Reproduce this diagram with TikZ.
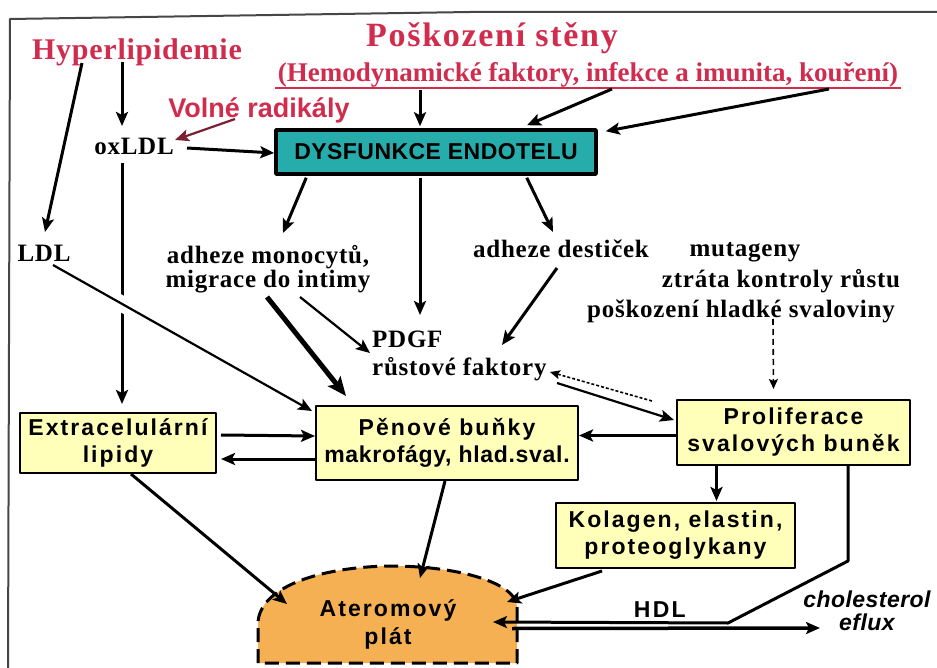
\documentclass[tikz,border=0pt]{standalone}
\usepackage{fontspec}
\setmainfont{Liberation Serif}
\setsansfont{Liberation Sans}
\usetikzlibrary{positioning,arrows.meta}

\definecolor{crimsonred}{RGB}{208,44,78}
\definecolor{darkmaroon}{RGB}{122,32,48}
\definecolor{tealbox}{RGB}{38,172,170}
\definecolor{paleyellow}{RGB}{255,255,186}
\definecolor{plaqueorange}{RGB}{244,176,82}
\definecolor{framegray}{RGB}{70,70,70}

% serif label font: size, letter spacing, baselineskip
\newcommand\lblfont[3]{\bfseries\fontsize{#1}{#3}\selectfont\addfontfeature{LetterSpace=#2}}
% sans box font: size, letter spacing, baselineskip
\newcommand\boxfont[3]{\sffamily\bfseries\fontsize{#1}{#3}\selectfont\addfontfeature{LetterSpace=#2}}

\begin{document}
\begin{tikzpicture}[x=1pt, y=-1pt, line join=round,
    >={Stealth[length=14pt,width=12pt,inset=3pt]},
    lbl/.style={font=\lblfont{25}{3}{24}, inner sep=3pt},
    redlbl/.style={text=crimsonred, inner sep=3pt},
    ybox/.style={draw, line width=2pt, fill=paleyellow, font=\boxfont{23}{9}{27}, align=center, inner sep=2pt},
    arr/.style={->, line width=3pt},
    thinarr/.style={->, line width=2.2pt},
    thickarr/.style={-{Stealth[length=19pt,width=16pt,inset=4pt]}, line width=5pt},
    smallarr/.style={-{Stealth[length=10pt,width=9pt,inset=2pt]}, line width=1.6pt}]
  \useasboundingbox (0,0) rectangle (937,668);
  \draw[framegray, line width=2pt] (937,12) -- (470,12) -- (10,19) -- (8,668);

  % titles
  \node[redlbl, font=\lblfont{30}{2.5}{30}, anchor=base] (hyper) at (137,60) {Hyperlipidemie};
  \node[redlbl, font=\lblfont{34}{5}{34}, anchor=base] (poskozeni) at (492,47) {Poškození stěny};
  \node[redlbl, font=\lblfont{27}{0}{27}, anchor=base] (faktory) at (588,82) {(Hemodynamické faktory, infekce a imunita, kouření)};
  \draw[crimsonred, line width=1.5pt] ([yshift=-6pt]faktory.base west) -- ([yshift=-6pt]faktory.base east);
  \node[redlbl, font=\sffamily\bfseries\fontsize{27}{27}\selectfont, anchor=base] (radikaly) at (259,118) {Volné radikály};

  % labels
  \node[lbl, anchor=base] (oxldl) at (134,155) {oxLDL};
  \node[lbl, anchor=base] (ldl) at (44,262) {LDL};
  \node[lbl, align=center] (adhmono) at (268,269) {adheze monocytů,\\migrace do intimy};
  \node[lbl, anchor=base] (adhdest) at (561,258) {adheze destiček};
  \node[lbl, anchor=base] (mutageny) at (745,257) {mutageny};
  \node[lbl, anchor=base] (ztrata) at (781,288) {ztráta kontroly růstu};
  \node[lbl, anchor=base] (poskhlad) at (741,318) {poškození hladké svaloviny};
  \node[lbl, anchor=base west] (pdgf) at (369,347) {PDGF};
  \node[lbl, anchor=base west] (rust) at ([yshift=-28pt]pdgf.base west) {růstové faktory};

  % boxes
  \node[draw, line width=3.5pt, fill=tealbox, font=\boxfont{23}{2}{27}, inner sep=2pt,
        minimum width=320pt, minimum height=44pt] (dysf) at (436,152) {DYSFUNKCE ENDOTELU};
  \node[ybox, minimum width=196pt, minimum height=60pt] (extra) at (118,443) {Extracelulární\\lipidy};
  \node[ybox, minimum width=262pt, minimum height=74pt] (penove) at (447,443)
       {Pěnové buňky\\{\addfontfeature{LetterSpace=3}makrofágy, hlad.sval.}};
  \node[ybox, minimum width=233pt, minimum height=65pt] (prolif) at (793.5,432.5) {Proliferace\\svalových buněk};
  \node[ybox, minimum width=239pt, minimum height=65pt] (kolagen) at (675.5,535.5) {Kolagen, elastin,\\proteoglykany};

  % plaque
  \draw[fill=plaqueorange, line width=3pt, dash pattern=on 14pt off 7pt]
    (258,663) -- (258,624) .. controls (258,588) and (318,567) .. (390,566)
    .. controls (462,566) and (517,584) .. (517,607) -- (517,663) -- cycle;
  \node[font=\boxfont{23}{9}{28}, align=center, inner sep=0pt] (aterom) at (388,624) {Ateromový\\plát};
  \coordinate (aterNW) at (287,604);
  \coordinate (aterN) at (420,578);
  \coordinate (aterNE) at (507,602);
  \coordinate (aterE) at (493,622);
  \coordinate (aterS) at (512,628.5);
  \node[font=\sffamily\bfseries\itshape\fontsize{23}{23}\selectfont\addfontfeature{LetterSpace=2},
        align=center, inner sep=2pt] (chol) at (867,611) {cholesterol\\eflux};

  % connectors
  \path[arr]
    ([xshift=-55pt,yshift=-3pt]hyper.base) edge ([xshift=1pt,yshift=30pt]ldl.base)
    ([xshift=-15pt,yshift=-2pt]hyper.base) edge ([xshift=-12pt,yshift=29pt]oxldl.base)
    ([xshift=53pt,yshift=7pt]oxldl.base) edge ([yshift=-1pt]dysf.west)
    ([xshift=-12pt,yshift=-8pt]oxldl.base) edge ([xshift=4pt,yshift=8pt]extra.north)
    ([xshift=-168pt,yshift=-8pt]faktory.base) edge ([xshift=-16pt,yshift=2pt]dysf.north)
    ([xshift=24pt,yshift=-7pt]faktory.base) edge ([xshift=91pt,yshift=3pt]dysf.north)
    ([xshift=241pt,yshift=-7pt]faktory.base) edge ([xshift=8pt,yshift=-3pt]dysf.north east)
    ([xshift=32pt,yshift=-2pt]dysf.south west) edge ([xshift=15pt,yshift=36pt]adhmono.center)
    ([xshift=-16pt,yshift=-2pt]dysf.south) edge ([xshift=51pt,yshift=32pt]pdgf.base west)
    ([xshift=-71pt,yshift=-2pt]dysf.south east) edge ([xshift=-8pt,yshift=26pt]adhdest.base)
    ([xshift=-4pt,yshift=-10pt]adhdest.base) edge ([xshift=133pt,yshift=30pt]rust.base west)
    ([xshift=4pt,yshift=8pt]extra.east) edge ([yshift=7pt]penove.west)
    ([yshift=-16pt]penove.west) edge ([xshift=4pt,yshift=-16pt]extra.east)
    ([yshift=-3pt]prolif.west) edge ([yshift=-3pt]prolif.west -| penove.east)
    ([xshift=-77pt]prolif.south) edge ([xshift=41pt,yshift=1pt]kolagen.north)
    ([xshift=47pt,yshift=-2pt]kolagen.south west) edge (aterNE)
    ([xshift=13pt]extra.south) edge (aterNW)
    ([xshift=-2pt]penove.south) edge (aterN);
  \draw[thinarr, darkmaroon] ([xshift=-24pt,yshift=-1pt]radikaly.base) -- ([xshift=41pt,yshift=15pt]oxldl.base);
  \draw[thickarr] ([xshift=-1pt,yshift=-28pt]adhmono.center) -- ([xshift=31pt,yshift=9pt]penove.north west);

  % LDL line crosses the oxLDL line
  \path ([xshift=9pt,yshift=-3pt]ldl.base) -- ([xshift=-3pt,yshift=-6pt]penove.north west)
    coordinate[pos=0.235] (gapA) coordinate[pos=0.295] (gapB);
  \draw[white, line width=16pt] (gapA) -- (gapB);
  \path[thinarr]
    ([xshift=9pt,yshift=-3pt]ldl.base) edge ([xshift=-3pt,yshift=-6pt]penove.north west)
    ([xshift=32pt,yshift=-28pt]adhmono.center) edge ([xshift=1pt,yshift=-6pt]pdgf.base west)
    ([xshift=188pt,yshift=-8pt]rust.base west) edge ([xshift=-2pt,yshift=-21pt]prolif.north west);
  \draw[smallarr, densely dashed] ([xshift=-24pt,yshift=-2pt]prolif.north west) -- ([xshift=181pt,yshift=3pt]rust.base west);
  \draw[smallarr, dash pattern=on 6pt off 4pt] ([xshift=32pt,yshift=-1pt]poskhlad.base) -- ([xshift=-20pt,yshift=10pt]prolif.north);

  % HDL and efflux
  \draw[arr] ([xshift=-63pt]prolif.south east) -- ++(0,95) -- ++(-120,62)
    -- node[pos=0.29, above=4pt, font=\boxfont{23}{10}{23}, inner sep=0pt] (hdl) {HDL} (aterE);
  \draw[->, line width=3.5pt] (aterS) -- ([xshift=-47pt,yshift=-17pt]chol.center);
\end{tikzpicture}
\end{document}
